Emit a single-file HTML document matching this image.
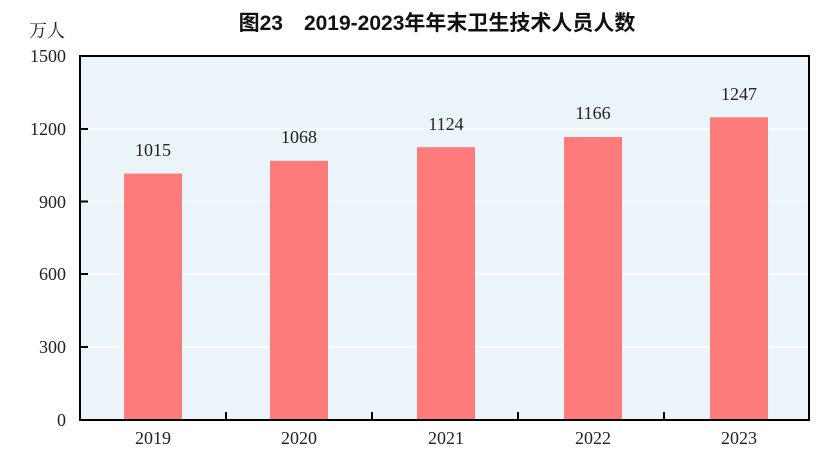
<!DOCTYPE html>
<html><head><meta charset="utf-8"><style>
html,body{margin:0;padding:0;background:#fff;}
</style></head><body>
<svg width="830" height="463" xmlns="http://www.w3.org/2000/svg">
<rect x="0" y="0" width="830" height="463" fill="#fff"/>
<text x="437" y="30" text-anchor="middle" font-family="Liberation Sans, Noto Sans CJK SC, sans-serif" font-size="21" font-weight="bold" fill="#111">图23　2019-2023年年末卫生技术人员人数</text>
<text x="47" y="37" text-anchor="middle" font-family="Liberation Serif, Noto Serif CJK SC, serif" font-size="18" fill="#222">万人</text>
<rect x="80" y="56" width="729" height="364" fill="#ebf4f8"/>
<g stroke="#fff" stroke-width="1.5">
<line x1="80" y1="129" x2="809" y2="129"/>
<line x1="80" y1="201.5" x2="809" y2="201.5"/>
<line x1="80" y1="274" x2="809" y2="274"/>
<line x1="80" y1="347" x2="809" y2="347"/>
</g>
<g fill="#fd7b7b">
<rect x="124" y="173.6" width="58" height="246.4"/>
<rect x="270" y="160.8" width="58" height="259.2"/>
<rect x="417" y="147.2" width="58" height="272.8"/>
<rect x="564" y="137" width="58" height="283"/>
<rect x="710" y="117.3" width="58" height="302.7"/>
</g>
<rect x="80" y="56" width="729" height="364" fill="none" stroke="#000" stroke-width="2"/>
<g stroke="#000" stroke-width="2">
<line x1="80" y1="129" x2="88" y2="129"/>
<line x1="80" y1="201.5" x2="88" y2="201.5"/>
<line x1="80" y1="274" x2="88" y2="274"/>
<line x1="80" y1="347" x2="88" y2="347"/>
<line x1="226" y1="420" x2="226" y2="412"/>
<line x1="372" y1="420" x2="372" y2="412"/>
<line x1="518" y1="420" x2="518" y2="412"/>
<line x1="664" y1="420" x2="664" y2="412"/>
</g>
<g font-family="Liberation Serif, serif" font-size="18" fill="#222" text-anchor="end">
<text x="66" y="62">1500</text>
<text x="66" y="135">1200</text>
<text x="66" y="208">900</text>
<text x="66" y="280">600</text>
<text x="66" y="353">300</text>
<text x="66" y="426">0</text>
</g>
<g font-family="Liberation Serif, serif" font-size="18" fill="#222" text-anchor="middle">
<text x="153" y="444">2019</text>
<text x="299" y="444">2020</text>
<text x="446" y="444">2021</text>
<text x="593" y="444">2022</text>
<text x="739" y="444">2023</text>
<text x="153" y="156">1015</text>
<text x="299" y="143">1068</text>
<text x="446" y="130">1124</text>
<text x="593" y="119">1166</text>
<text x="739" y="100">1247</text>
</g>
</svg>
</body></html>
